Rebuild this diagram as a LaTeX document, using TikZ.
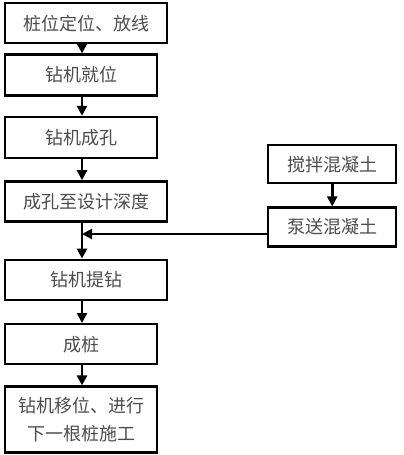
\documentclass[tikz,border=0pt]{standalone}
\usepackage{fontspec}
\newfontfamily\cjk{Noto Sans CJK SC}
\usetikzlibrary{arrows.meta,positioning}

\begin{document}
\begin{tikzpicture}[
    x=1pt, y=1pt,
    base/.style={draw, line width=2.4pt, align=center, inner sep=2pt,
        font=\cjk\fontsize{18}{28}\selectfont, text=black!70},
    stepbox/.style={base, minimum width=152pt, minimum height=41pt},
    widebox/.style={base, minimum width=162pt, minimum height=40pt},
    sidebox/.style={base, minimum width=128pt, minimum height=39pt},
    arrow/.style={-{Triangle[width=10pt,length=10pt]}, line width=2.8pt}
]
\useasboundingbox (0,0) rectangle (404,-455);
\node[widebox, anchor=north west] (dingwei) at (4,-2) {桩位定位、放线};
\node[stepbox, below=9pt of dingwei.south west, anchor=north west] (jiuwei) {钻机就位};
\node[stepbox, below=19pt of jiuwei.south west, anchor=north west] (chengkong) {钻机成孔};
\node[widebox, below=21pt of chengkong.south west, anchor=north west] (shendu) {成孔至设计深度};
\node[widebox, below=36pt of shendu.south west, anchor=north west] (tizuan) {钻机提钻};
\node[stepbox, minimum height=40pt, below=22pt of tizuan.south west, anchor=north west] (chengzhuang) {成桩};
\node[stepbox, minimum height=66pt, below=20pt of chengzhuang.south west, anchor=north west] (yiwei) {钻机移位、进行\\下一根桩施工};
\node[sidebox, minimum height=38pt, anchor=north west] (jiaoban) at (267,-144) {搅拌混凝土};
\node[sidebox, below=22pt of jiaoban.south west, anchor=north west] (bengsong) {泵送混凝土};
\coordinate (join) at (82,-234);
\draw[arrow] (dingwei.south -| join) -- (jiuwei.north -| join);
\draw[arrow] (jiuwei.south -| join) -- (chengkong.north -| join);
\draw[arrow] (chengkong.south -| join) -- (shendu.north -| join);
\draw[arrow] (shendu.south -| join) -- (tizuan.north -| join);
\draw[arrow] (tizuan.south -| join) -- (chengzhuang.north -| join);
\draw[arrow] (chengzhuang.south -| join) -- (yiwei.north -| join);
\draw[arrow] (jiaoban) -- (bengsong);
\draw[arrow] (bengsong.west |- join) -- (join);
\end{tikzpicture}
\end{document}
